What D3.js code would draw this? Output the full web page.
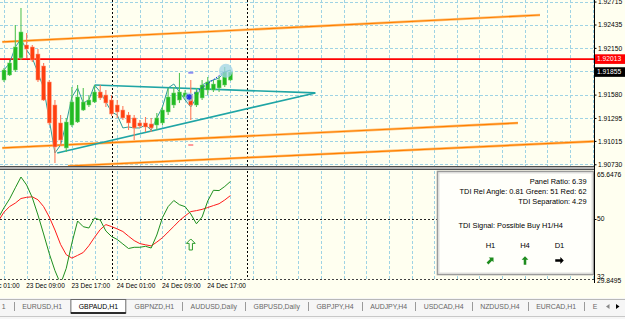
<!DOCTYPE html>
<html>
<head>
<meta charset="utf-8">
<script src="https://cdn.jsdelivr.net/npm/d3@7/dist/d3.min.js"></script>
<style>
html,body{margin:0;padding:0;background:#fffff0;overflow:hidden}
svg{display:block;font-family:"Liberation Sans",Arial,sans-serif}
</style>
</head>
<body>
<svg id="chart" width="625" height="319"></svg>
<script>
// ---------------- DATA ----------------
const firstBar = "2013-12-23T05:00:00Z";   // first visible H1 bar (GBPAUD,H1)
const opens  = [1.91758,1.91819,1.91880,1.92027,1.92185,1.92161,1.92075,1.91929,1.91734,1.91453,1.91234,1.90929,1.91209,1.91246,1.91392,1.91453,1.91490,1.91612,1.91575,1.91514,1.91453,1.91392,1.91331,1.91295,1.91234,1.91234,1.91222,1.91209,1.91234,1.91368,1.91453,1.91514,1.91551,1.91575,1.91453,1.91539,1.91636,1.91636,1.91661,1.91697,1.91758];
const highs  = [1.91905,1.92002,1.92429,1.92636,1.92332,1.92185,1.92136,1.91966,1.91758,1.91514,1.91331,1.91295,1.91673,1.91697,1.91661,1.91575,1.91697,1.91697,1.91636,1.91575,1.91514,1.91441,1.91368,1.91331,1.91270,1.91307,1.91295,1.91356,1.91429,1.91661,1.91673,1.91844,1.91636,1.91758,1.91661,1.91758,1.91795,1.91758,1.91807,1.91917,1.91880];
const lows   = [1.91734,1.91807,1.91856,1.92002,1.92027,1.91978,1.91734,1.91502,1.91209,1.90746,1.90953,1.90880,1.91185,1.91234,1.91380,1.91429,1.91478,1.91514,1.91429,1.91319,1.91295,1.91270,1.91148,1.91026,1.91173,1.91124,1.91124,1.91148,1.91209,1.91331,1.91417,1.91478,1.91514,1.91270,1.91429,1.91514,1.91575,1.91612,1.91612,1.91673,1.91746];
const closes = [1.91880,1.91966,1.92161,1.92344,1.92136,1.92002,1.91758,1.91514,1.91234,1.90941,1.91026,1.91246,1.91490,1.91551,1.91490,1.91514,1.91612,1.91539,1.91478,1.91344,1.91368,1.91295,1.91234,1.91173,1.91197,1.91185,1.91173,1.91295,1.91392,1.91551,1.91600,1.91612,1.91600,1.91453,1.91612,1.91697,1.91734,1.91709,1.91758,1.91856,1.91855];
const swingLine = [1.91880,1.91966,1.92161,1.92258,1.92124,1.92027,1.91844,1.91661,1.91270,1.90868,1.90965,1.91234,1.91551,1.91661,1.91478,1.91514,1.91697,1.91612,1.91490,1.91368,1.91331,1.91173,1.91185,1.91173,1.91173,1.91209,1.91148,1.91295,1.91429,1.91661,1.91709,1.91612,1.91514,1.91429,1.91539,1.91697,1.91734,1.91758,1.91783,1.91856,1.91880];

// TDI sub-window (starts one bar before the first visible candle)
const tdiGreen = [50.26,53.70,56.68,60.36,63.97,61.30,57.05,51.26,44.91,38.35,32.66,28.18,33.43,41.89,49.25,47.35,46.91,50.26,49.59,45.91,44.07,43.07,41.56,40.05,40.46,40.46,40.79,40.22,44.57,50.39,54.07,56.11,54.71,54.04,51.60,48.32,50.59,55.95,59.53,59.43,60.80,62.47];
const tdiRed   = [49.25,52.23,54.11,55.24,56.78,57.18,57.35,56.35,54.07,50.59,46.24,41.39,37.98,36.84,37.75,38.72,40.99,43.80,46.38,48.05,47.38,46.61,45.74,44.17,42.70,41.69,41.29,40.92,42.20,43.67,45.57,47.45,49.39,50.96,52.40,52.73,53.14,53.77,54.41,55.04,56.28,57.75];
const tdiMin = 29.8495, tdiMax = 65.6476;
const tdiLevels = [50, 32];

// axis ticks
const priceTicks = [1.92715,1.92435,1.92150,1.91865,1.91580,1.91295,1.91015,1.90730];
const priceTickLabels = ["1.92715","1.92435","1.92150","1.91865","1.91580","1.91295","1.91015","1.90730"];
const priceDomain = [1.90709, 1.92734];
const timeTicks = ["2013-12-23T01:00:00Z","2013-12-23T09:00:00Z","2013-12-23T17:00:00Z","2013-12-24T01:00:00Z","2013-12-24T09:00:00Z","2013-12-24T17:00:00Z"];
const daySeparators = ["2013-12-24T00:00:00Z","2013-12-25T00:00:00Z"];

// horizontal price levels
const redLevel = 1.92013, redLevelLabel = "1.92013";
const bidPrice = 1.91855, bidLabel = "1.91855";

// objects drawn on chart: [bar index, price]
const channelLines = [
  [[-0.3,1.92222],[94.7,1.92551]],
  [[-0.3,1.90929],[90.8,1.91234]],
  [[11.3,1.90709],[104.2,1.91009]]
];
const triangleLines = [
  [[16,1.91697],[55,1.91600]],
  [[9.4,1.90868],[55,1.91600]]
];
const starMark = [32.7, 1.91551];
const circleMark = [39.2, 1.91870];
const dashMarks = [[33, 1.91847, "#8c8cf0"], [33, 1.90965, "#ff9a9a"]];
const tdiArrow = [33, 41.4];

// info panel
const panelLines = ["Panel Ratio: 6.39", "TDI Rel Angle: 0.81 Green: 51 Red: 62", "TDI Separation: 4.29"];
const signalText = "TDI Signal: Possible Buy H1/H4";
const tfLabels = ["H1","H4","D1"];
const tfDirections = [45, 0, 90];
const tfColors = ["#1e8c1e","#1e8c1e","#000000"];

// tabs
const tabs = ["1","EURUSD,H1","GBPAUD,H1","GBPNZD,H1","AUDUSD,Daily","GBPUSD,Daily","GBPJPY,H4","AUDJPY,H4","USDCAD,H4","NZDUSD,H4","EURCAD,H1","E"];
const activeTab = "GBPAUD,H1";

// ---------------- SCALES ----------------
const HOUR = 3600e3;
const t0 = new Date(firstBar).getTime();
const barTime = i => new Date(t0 + i * HOUR);
const AX = 594;
const x = d3.scaleUtc().domain([barTime(0), barTime(100)]).range([4, 570]);
const bx = i => x(barTime(i));
const yMain = d3.scaleLinear().domain(priceDomain).range([166, 0]);
const yInd = d3.scaleLinear().domain([tdiMin, tdiMax]).range([279, 172]);

const svg = d3.select("#chart");
const defs = svg.append("defs");
defs.append("clipPath").attr("id","clipMain").append("rect").attr("x",0).attr("y",0).attr("width",AX).attr("height",166);
defs.append("clipPath").attr("id","clipInd").append("rect").attr("x",0).attr("y",171).attr("width",AX).attr("height",108.5);

svg.append("rect").attr("width",625).attr("height",319).attr("fill","#fffff0");

const gridColor = "#9fd3e4";
const px = v => Math.round(v) + 0.5;

// ---------------- MAIN PANEL ----------------
const gm = svg.append("g").attr("clip-path","url(#clipMain)");
gm.selectAll("line.hg").data(priceTicks).join("line")
  .attr("x1",0).attr("x2",AX).attr("y1",d=>px(yMain(d))).attr("y2",d=>px(yMain(d)))
  .attr("stroke",gridColor).attr("stroke-dasharray","3,2");
const vgrid = d3.range(0, 106, 4).map(barTime);
gm.selectAll("line.vg").data(vgrid).join("line")
  .attr("x1",d=>px(x(d))).attr("x2",d=>px(x(d))).attr("y1",0).attr("y2",166)
  .attr("stroke",gridColor).attr("stroke-dasharray","3,2");
gm.selectAll("line.ds").data(daySeparators).join("line")
  .attr("x1",d=>px(x(new Date(d)))).attr("x2",d=>px(x(new Date(d)))).attr("y1",0).attr("y2",166)
  .attr("stroke","#000").attr("stroke-dasharray","2,2");

const pl = d3.line().x(d=>bx(d[0])).y(d=>yMain(d[1]));
gm.selectAll("path.chA").data(channelLines).join("path").attr("d",pl)
  .attr("fill","none").attr("stroke","#ffc27a").attr("stroke-width",2.6);
gm.selectAll("path.chB").data(channelLines).join("path").attr("d",pl)
  .attr("fill","none").attr("stroke","#ff8000").attr("stroke-width",1.2);

gm.append("line").attr("x1",0).attr("x2",AX).attr("y1",yMain(redLevel)).attr("y2",yMain(redLevel))
  .attr("stroke","#ff0000").attr("stroke-width",1.6);

gm.selectAll("path.tri").data(triangleLines).join("path").attr("d",pl)
  .attr("fill","none").attr("stroke","#1fa5a5").attr("stroke-width",1.7);

gm.append("path").datum(swingLine.map((v,i)=>[i,v])).attr("d",pl)
  .attr("fill","none").attr("stroke","#2b9c9c").attr("stroke-width",1);

const candles = opens.map((o,i)=>({i,o,h:highs[i],l:lows[i],c:closes[i]}));
const cg = gm.append("g");
cg.selectAll("line.wick").data(candles).join("line")
  .attr("x1",d=>bx(d.i)).attr("x2",d=>bx(d.i))
  .attr("y1",d=>yMain(d.h)).attr("y2",d=>yMain(d.l))
  .attr("stroke",d=>d.c>=d.o?"#56c456":"#ff7a5a").attr("stroke-width",1.1);
cg.selectAll("rect.body").data(candles).join("rect")
  .attr("x",d=>bx(d.i)-2).attr("width",4)
  .attr("y",d=>yMain(Math.max(d.o,d.c)))
  .attr("height",d=>Math.max(1,Math.abs(yMain(d.o)-yMain(d.c))))
  .attr("fill",d=>d.c>=d.o?"#22bb22":"#ff4010")
  .attr("stroke",d=>d.c>=d.o?"#7fd67f":"#ff9a80").attr("stroke-width",0.5);

// markers
gm.append("line").attr("x1",bx(starMark[0])).attr("y1",yMain(starMark[1]))
  .attr("x2",bx(circleMark[0])).attr("y2",yMain(circleMark[1]))
  .attr("stroke","#2233ee").attr("stroke-dasharray","1.5,1.5");
gm.append("circle").attr("cx",bx(circleMark[0])).attr("cy",yMain(circleMark[1])).attr("r",7)
  .attr("fill","#9fd3e6").attr("opacity",0.75);
gm.append("circle").attr("cx",bx(starMark[0])).attr("cy",yMain(starMark[1])).attr("r",4.5)
  .attr("fill","#9fd3e6").attr("opacity",0.7);
const sx = bx(starMark[0]), sy = yMain(starMark[1]);
gm.append("path").attr("d",`M${sx-3},${sy}L${sx+3},${sy}M${sx},${sy-3}L${sx},${sy+3}M${sx-2.2},${sy-2.2}L${sx+2.2},${sy+2.2}M${sx-2.2},${sy+2.2}L${sx+2.2},${sy-2.2}`)
  .attr("stroke","#1f2fe8").attr("stroke-width",1.2);
gm.selectAll("rect.dash").data(dashMarks).join("rect")
  .attr("x",d=>bx(d[0])-2.5).attr("y",d=>yMain(d[1])-1).attr("width",5).attr("height",2)
  .attr("fill",d=>d[2]);

// panel separator
svg.append("rect").attr("x",0).attr("y",166).attr("width",AX).attr("height",4).attr("fill","#b4b4b4");
svg.append("line").attr("x1",0).attr("x2",AX).attr("y1",166.5).attr("y2",166.5).attr("stroke","#505050");
svg.append("line").attr("x1",0).attr("x2",AX).attr("y1",169.5).attr("y2",169.5).attr("stroke","#505050");

// ---------------- INDICATOR PANEL ----------------
const gi = svg.append("g").attr("clip-path","url(#clipInd)");
gi.selectAll("line.vg").data(vgrid).join("line")
  .attr("x1",d=>px(x(d))).attr("x2",d=>px(x(d))).attr("y1",171).attr("y2",280)
  .attr("stroke",gridColor).attr("stroke-dasharray","3,2");
gi.selectAll("line.ds").data(daySeparators).join("line")
  .attr("x1",d=>px(x(new Date(d)))).attr("x2",d=>px(x(new Date(d)))).attr("y1",171).attr("y2",280)
  .attr("stroke","#000").attr("stroke-dasharray","2,2");
gi.append("line").attr("x1",0).attr("x2",AX).attr("y1",px(yInd(50))).attr("y2",px(yInd(50)))
  .attr("stroke","#222").attr("stroke-dasharray","2,2");
svg.append("line").attr("x1",0).attr("x2",AX).attr("y1",px(yInd(tdiMin))).attr("y2",px(yInd(tdiMin)))
  .attr("stroke","#444").attr("stroke-dasharray","2,2");

const il = d3.line().x((d,i)=>bx(i-1)).y(d=>yInd(d));
gi.append("path").datum(tdiRed).attr("d",il).attr("fill","none").attr("stroke","#ff1a1a").attr("stroke-width",1);
gi.append("path").datum(tdiGreen).attr("d",il).attr("fill","none").attr("stroke","#1e8f1e").attr("stroke-width",1);

const arrowPts = [[0,-5],[4,-1],[1.5,-1],[1.5,5],[-1.5,5],[-1.5,-1],[-4,-1]];
const arrowPath = s => "M" + arrowPts.map(p=>(p[0]*s)+","+(p[1]*s)).join("L") + "Z";
gi.append("path").attr("d",arrowPath(1.1))
  .attr("transform",`translate(${bx(tdiArrow[0])},${yInd(tdiArrow[1])})`)
  .attr("fill","#fffff0").attr("stroke","#2a9a2a").attr("stroke-width",1);

// info box
const bX = 437.5, bY = 171.5, bW = 156, bH = 103;
svg.append("rect").attr("x",bX).attr("y",bY).attr("width",bW).attr("height",bH)
  .attr("fill","#fffffa").attr("stroke","#9a9a9a").attr("stroke-width",1.6);
svg.append("rect").attr("x",bX+1.5).attr("y",bY+1.5).attr("width",bW-3).attr("height",bH-3)
  .attr("fill","none").attr("stroke","#d8d8d8").attr("stroke-width",0.8);
svg.selectAll("text.pl").data(panelLines).join("text")
  .attr("x",bX+149).attr("y",(d,i)=>bY+12+i*10.3).attr("text-anchor","end")
  .attr("font-size","7.4px").attr("fill","#000").text(d=>d);
svg.append("text").attr("x",bX+21).attr("y",bY+56).attr("font-size","7.4px").attr("fill","#000").text(signalText);
svg.selectAll("text.tf").data(tfLabels).join("text")
  .attr("x",(d,i)=>bX+53+i*34.5).attr("y",bY+76.5).attr("text-anchor","middle")
  .attr("font-size","7.6px").attr("fill","#000").text(d=>d);
svg.selectAll("path.tfa").data(tfLabels).join("path")
  .attr("d",arrowPath(0.85))
  .attr("transform",(d,i)=>`translate(${bX+53+i*34.5},${bY+89}) rotate(${tfDirections[i]})`)
  .attr("fill",(d,i)=>tfColors[i]);

// ---------------- AXES ----------------
svg.append("line").attr("x1",AX+0.5).attr("x2",AX+0.5).attr("y1",0).attr("y2",283).attr("stroke","#000");
const ya = svg.append("g").attr("transform",`translate(${AX+0.5},0)`)
  .call(d3.axisRight(yMain).tickValues(priceTicks).tickFormat((d,i)=>priceTickLabels[i]).tickSize(2).tickPadding(1.5));
ya.select(".domain").remove();
ya.selectAll("text").attr("font-size","6.7px").attr("font-family","Liberation Sans, Arial, sans-serif").attr("fill","#000");
ya.selectAll("line").attr("stroke","#000");

const levelBox = (price, label, fill) => {
  const yy = yMain(price);
  svg.append("rect").attr("x",AX+1).attr("y",yy-4.8).attr("width",30).attr("height",9.6).attr("fill",fill);
  svg.append("text").attr("x",AX+3).attr("y",yy).attr("dy","0.35em").attr("font-size","6.7px")
    .attr("fill","#fff").text(label);
};
levelBox(redLevel, redLevelLabel, "#ff0000");
levelBox(bidPrice, bidLabel, "#000000");

const indLabels = [
  {v:tdiMax, t:"65.6476", dy:2.5},
  {v:50, t:"50", dy:0},
  {v:tdiMin, t:"32", dy:-2},
  {v:tdiMin, t:"29.8495", dy:1.8}
];
svg.selectAll("text.il").data(indLabels).join("text")
  .attr("x",AX+3).attr("y",d=>yInd(d.v)+d.dy).attr("dy","0.35em")
  .attr("font-size","6.7px").attr("fill","#000").text(d=>d.t);
svg.append("line").attr("x1",AX).attr("x2",AX+2.5).attr("y1",px(yInd(50))).attr("y2",px(yInd(50))).attr("stroke","#000");

const fmt = d3.utcFormat("%d %b %H:%M");
svg.selectAll("text.tl").data(timeTicks).join("text")
  .attr("x",d=>x(new Date(d))-0.5).attr("y",287.5)
  .attr("font-size","6.5px").attr("fill","#000").text(d=>fmt(new Date(d)));

// ---------------- TABS ----------------
svg.append("rect").attr("x",0).attr("y",298).attr("width",625).attr("height",21).attr("fill","#f6f6f6");
svg.append("line").attr("x1",0).attr("x2",625).attr("y1",299.5).attr("y2",299.5).attr("stroke","#b8b8b8");
svg.append("line").attr("x1",0).attr("x2",625).attr("y1",316.5).attr("y2",316.5).attr("stroke","#c8c8c8");
const tg = svg.append("g");
let cursor = -6.5;
const pad = 8.3;
tabs.forEach(name => {
  const t = tg.append("text").attr("x",cursor+pad).attr("y",308.5).attr("font-size","6.9px")
    .attr("fill", name===activeTab ? "#000" : "#666").text(name);
  const w = t.node().getComputedTextLength();
  const end = cursor + pad + w + pad;
  if (name === activeTab) {
    tg.insert("rect","text").attr("x",cursor+0.5).attr("y",299.5).attr("width",end-cursor-1).attr("height",13.5)
      .attr("fill","#ffffff").attr("stroke","#6a6a6a");
    tg.append("line").attr("x1",cursor+0.5).attr("x2",end-0.5).attr("y1",313).attr("y2",313).attr("stroke","#000").attr("stroke-width",1.4);
  } else {
    const nextActive = tabs[tabs.indexOf(name)+1] === activeTab;
    if (!nextActive && name !== "E") {
      tg.append("line").attr("x1",px(end)).attr("x2",px(end)).attr("y1",302).attr("y2",311).attr("stroke","#9a9a9a");
    }
  }
  cursor = end;
});
// scroll arrows
svg.append("path").attr("d","M606,306.5L609.5,304L609.5,309Z").attr("fill","#888");
svg.append("path").attr("d","M619.5,306.5L616,304L616,309Z").attr("fill","#000");
</script>
</body>
</html>
